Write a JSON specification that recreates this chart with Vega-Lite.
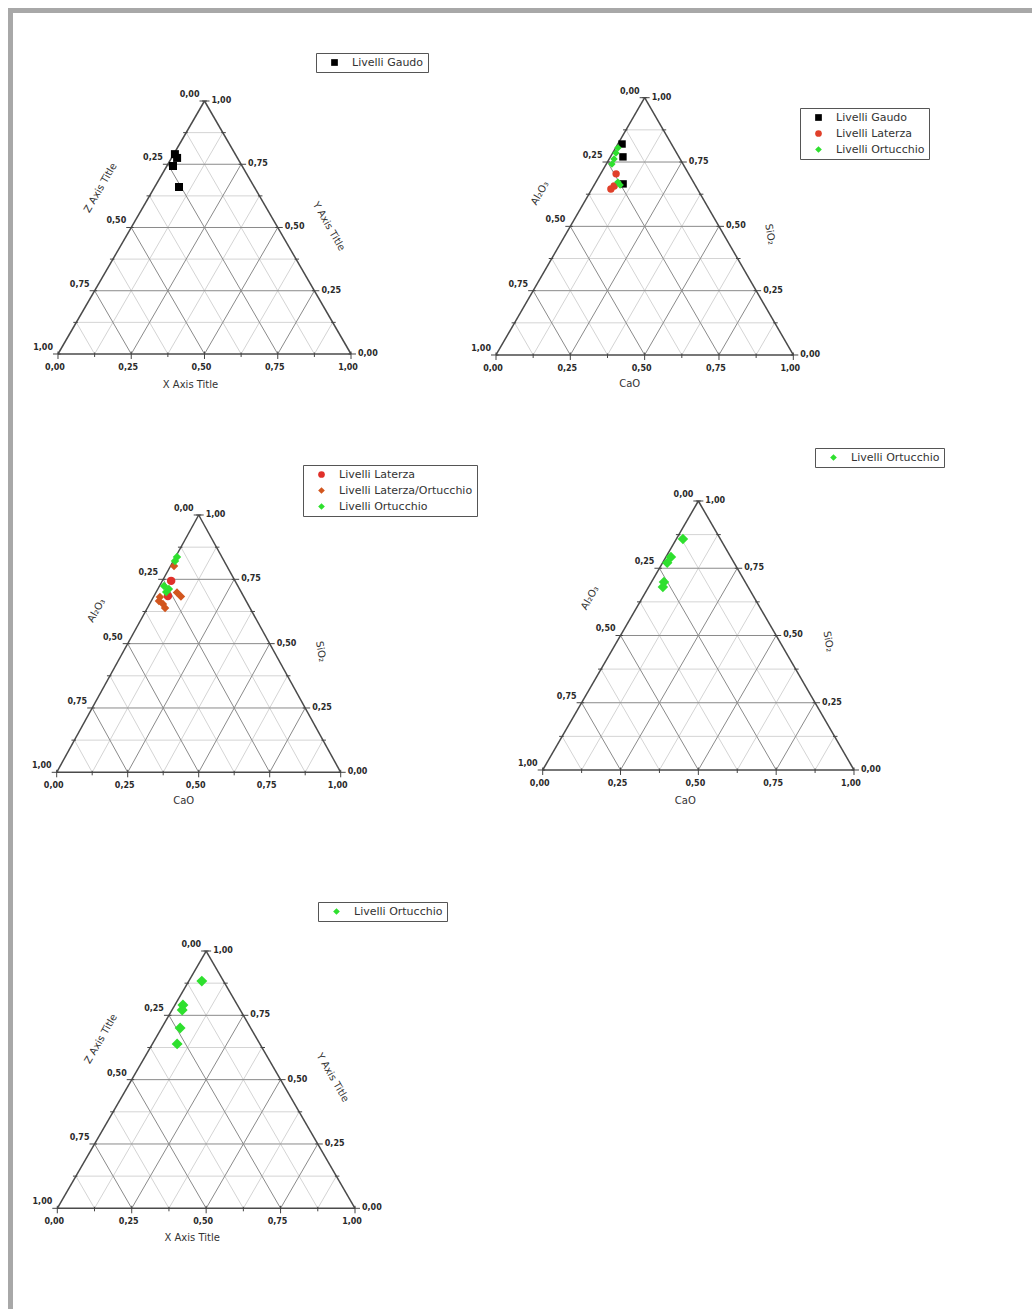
{
  "$schema": "https://vega.github.io/schema/vega-lite/v6.json",
  "padding": {"left": 8, "top": 8, "right": 0, "bottom": 0},
  "background": "white",
  "spacing": 0,
  "resolve": {"scale": {"color": "independent", "shape": "independent"}},
  "config": {
    "view": {"stroke": null},
    "text": {"font": "DejaVu Sans"},
    "legend": {
      "labelFont": "DejaVu Sans",
      "labelFontSize": 11,
      "labelColor": "#333",
      "padding": 4,
      "strokeColor": "#555",
      "symbolOffset": 9,
      "labelOffset": 12,
      "rowPadding": 4,
      "symbolSize": 45
    }
  },
  "datasets": {
    "grid": [
      {"family": "X", "v": 0.125}, {"family": "X", "v": 0.375}, {"family": "X", "v": 0.625}, {"family": "X", "v": 0.875},
      {"family": "Y", "v": 0.125}, {"family": "Y", "v": 0.375}, {"family": "Y", "v": 0.625}, {"family": "Y", "v": 0.875},
      {"family": "Z", "v": 0.125}, {"family": "Z", "v": 0.375}, {"family": "Z", "v": 0.625}, {"family": "Z", "v": 0.875},
      {"family": "X", "v": 0.25}, {"family": "X", "v": 0.5}, {"family": "X", "v": 0.75},
      {"family": "Y", "v": 0.25}, {"family": "Y", "v": 0.5}, {"family": "Y", "v": 0.75},
      {"family": "Z", "v": 0.25}, {"family": "Z", "v": 0.5}, {"family": "Z", "v": 0.75},
      {"family": "X", "v": 0}, {"family": "Y", "v": 0}, {"family": "Z", "v": 0}
    ],
    "ticks": [
      {"side": "bottom", "v": 0}, {"side": "bottom", "v": 0.125}, {"side": "bottom", "v": 0.25}, {"side": "bottom", "v": 0.375},
      {"side": "bottom", "v": 0.5}, {"side": "bottom", "v": 0.625}, {"side": "bottom", "v": 0.75}, {"side": "bottom", "v": 0.875},
      {"side": "bottom", "v": 1},
      {"side": "right", "v": 0}, {"side": "right", "v": 0.125}, {"side": "right", "v": 0.25}, {"side": "right", "v": 0.375},
      {"side": "right", "v": 0.5}, {"side": "right", "v": 0.625}, {"side": "right", "v": 0.75}, {"side": "right", "v": 0.875},
      {"side": "right", "v": 1},
      {"side": "left", "v": 0}, {"side": "left", "v": 0.125}, {"side": "left", "v": 0.25}, {"side": "left", "v": 0.375},
      {"side": "left", "v": 0.5}, {"side": "left", "v": 0.625}, {"side": "left", "v": 0.75}, {"side": "left", "v": 0.875},
      {"side": "left", "v": 1}
    ],
    "samples": [
      {"panel": 1, "group": "Livelli Gaudo", "CaO": 0.004, "SiO2": 0.790, "Al2O3": 0.206},
      {"panel": 1, "group": "Livelli Gaudo", "CaO": 0.019, "SiO2": 0.775, "Al2O3": 0.206},
      {"panel": 1, "group": "Livelli Gaudo", "CaO": 0.021, "SiO2": 0.743, "Al2O3": 0.236},
      {"panel": 1, "group": "Livelli Gaudo", "CaO": 0.083, "SiO2": 0.660, "Al2O3": 0.257},

      {"panel": 2, "group": "Livelli Gaudo", "CaO": 0.014, "SiO2": 0.820, "Al2O3": 0.166},
      {"panel": 2, "group": "Livelli Gaudo", "CaO": 0.042, "SiO2": 0.770, "Al2O3": 0.188},
      {"panel": 2, "group": "Livelli Gaudo", "CaO": 0.095, "SiO2": 0.665, "Al2O3": 0.240},
      {"panel": 2, "group": "Livelli Laterza", "CaO": 0.052, "SiO2": 0.704, "Al2O3": 0.244},
      {"panel": 2, "group": "Livelli Laterza", "CaO": 0.064, "SiO2": 0.645, "Al2O3": 0.291},
      {"panel": 2, "group": "Livelli Laterza", "CaO": 0.069, "SiO2": 0.657, "Al2O3": 0.274},
      {"panel": 2, "group": "Livelli Ortucchio", "CaO": 0.008, "SiO2": 0.805, "Al2O3": 0.187},
      {"panel": 2, "group": "Livelli Ortucchio", "CaO": 0.011, "SiO2": 0.785, "Al2O3": 0.204},
      {"panel": 2, "group": "Livelli Ortucchio", "CaO": 0.016, "SiO2": 0.762, "Al2O3": 0.222},
      {"panel": 2, "group": "Livelli Ortucchio", "CaO": 0.019, "SiO2": 0.742, "Al2O3": 0.239},
      {"panel": 2, "group": "Livelli Ortucchio", "CaO": 0.074, "SiO2": 0.672, "Al2O3": 0.254},
      {"panel": 2, "group": "Livelli Ortucchio", "CaO": 0.087, "SiO2": 0.661, "Al2O3": 0.252},

      {"panel": 3, "group": "Livelli Laterza", "CaO": 0.031, "SiO2": 0.744, "Al2O3": 0.225},
      {"panel": 3, "group": "Livelli Laterza", "CaO": 0.049, "SiO2": 0.685, "Al2O3": 0.266},
      {"panel": 3, "group": "Livelli Laterza/Ortucchio", "CaO": 0.012, "SiO2": 0.802, "Al2O3": 0.186},
      {"panel": 3, "group": "Livelli Laterza/Ortucchio", "CaO": 0.074, "SiO2": 0.699, "Al2O3": 0.227},
      {"panel": 3, "group": "Livelli Laterza/Ortucchio", "CaO": 0.096, "SiO2": 0.683, "Al2O3": 0.221},
      {"panel": 3, "group": "Livelli Laterza/Ortucchio", "CaO": 0.027, "SiO2": 0.666, "Al2O3": 0.307},
      {"panel": 3, "group": "Livelli Laterza/Ortucchio", "CaO": 0.047, "SiO2": 0.654, "Al2O3": 0.299},
      {"panel": 3, "group": "Livelli Laterza/Ortucchio", "CaO": 0.062, "SiO2": 0.639, "Al2O3": 0.299},
      {"panel": 3, "group": "Livelli Laterza/Ortucchio", "CaO": 0.023, "SiO2": 0.681, "Al2O3": 0.296},
      {"panel": 3, "group": "Livelli Ortucchio", "CaO": 0.005, "SiO2": 0.837, "Al2O3": 0.158},
      {"panel": 3, "group": "Livelli Ortucchio", "CaO": 0.006, "SiO2": 0.821, "Al2O3": 0.173},
      {"panel": 3, "group": "Livelli Ortucchio", "CaO": 0.016, "SiO2": 0.724, "Al2O3": 0.260},
      {"panel": 3, "group": "Livelli Ortucchio", "CaO": 0.039, "SiO2": 0.712, "Al2O3": 0.249},
      {"panel": 3, "group": "Livelli Ortucchio", "CaO": 0.035, "SiO2": 0.701, "Al2O3": 0.264},

      {"panel": 4, "group": "Livelli Ortucchio", "CaO": 0.021, "SiO2": 0.859, "Al2O3": 0.120},
      {"panel": 4, "group": "Livelli Ortucchio", "CaO": 0.016, "SiO2": 0.792, "Al2O3": 0.192},
      {"panel": 4, "group": "Livelli Ortucchio", "CaO": 0.015, "SiO2": 0.770, "Al2O3": 0.215},
      {"panel": 4, "group": "Livelli Ortucchio", "CaO": 0.040, "SiO2": 0.699, "Al2O3": 0.261},
      {"panel": 4, "group": "Livelli Ortucchio", "CaO": 0.046, "SiO2": 0.680, "Al2O3": 0.274},

      {"panel": 5, "group": "Livelli Ortucchio", "CaO": 0.044, "SiO2": 0.883, "Al2O3": 0.073},
      {"panel": 5, "group": "Livelli Ortucchio", "CaO": 0.027, "SiO2": 0.790, "Al2O3": 0.183},
      {"panel": 5, "group": "Livelli Ortucchio", "CaO": 0.034, "SiO2": 0.771, "Al2O3": 0.195},
      {"panel": 5, "group": "Livelli Ortucchio", "CaO": 0.062, "SiO2": 0.701, "Al2O3": 0.237},
      {"panel": 5, "group": "Livelli Ortucchio", "CaO": 0.083, "SiO2": 0.639, "Al2O3": 0.278}
    ]
  },
  "vconcat": [
    {
      "width": 1024, "height": 5,
      "view": {"fill": "#a8a8a8", "stroke": null},
      "data": {"values": [{}]},
      "mark": {"type": "text", "fontSize": 1, "baseline": "top", "align": "left"},
      "encoding": {"text": {"value": ""}}
    },
    {
      "spacing": 0,
      "resolve": {"scale": {"color": "independent", "shape": "independent"}},
      "hconcat": [
        {
          "width": 5, "height": 1296,
          "view": {"fill": "#a8a8a8", "stroke": null},
          "data": {"values": [{}]},
          "mark": {"type": "text", "fontSize": 1, "baseline": "top", "align": "left"},
          "encoding": {"text": {"value": ""}}
        },
        {
          "spacing": 0,
          "resolve": {"scale": {"color": "independent", "shape": "independent"}},
          "vconcat": [
            {
              "spacing": 0,
              "bounds": "flush",
              "resolve": {"scale": {"color": "independent", "shape": "independent"}},
              "hconcat": [
                {
                  "width": 467, "height": 417,
                  "encoding": {
                    "x": {"field": "px", "type": "quantitative", "axis": null, "scale": {"domain": [-0.15358, 1.44027], "nice": false, "zero": false}},
                    "y": {"field": "py", "type": "quantitative", "axis": null, "scale": {"domain": [-0.3004, 1.34783], "nice": false, "zero": false}}
                  },
                  "layer": [
                    {"data": {"name": "grid"}, "transform": [
                      {"calculate": "datum.family === 'Y' ? datum.v / 2 : datum.family === 'X' ? datum.v : 1 - datum.v", "as": "px"},
                      {"calculate": "datum.family === 'Y' ? datum.v : 0", "as": "py"},
                      {"calculate": "datum.family === 'Y' ? 1 - datum.v / 2 : datum.family === 'X' ? (1 + datum.v) / 2 : (1 - datum.v) / 2", "as": "px2"},
                      {"calculate": "datum.family === 'Y' ? datum.v : 1 - datum.v", "as": "py2"}],
                     "mark": {"type": "rule"},
                     "encoding": {"x2": {"field": "px2"}, "y2": {"field": "py2"},
                       "color": {"condition": [{"test": "datum.v === 0", "value": "#4a4a4a"}, {"test": "datum.v * 4 % 1 === 0", "value": "#8a8a8a"}], "value": "#d4d4d4"},
                       "strokeWidth": {"condition": {"test": "datum.v === 0", "value": 1.5}, "value": 1}}},
                    {"data": {"name": "ticks"}, "transform": [
                      {"calculate": "datum.side === 'bottom' ? datum.v : datum.side === 'right' ? 1 - datum.v / 2 : (1 - datum.v) / 2", "as": "px"},
                      {"calculate": "datum.side === 'bottom' ? 0 : datum.side === 'right' ? datum.v : 1 - datum.v", "as": "py"}],
                     "mark": {"type": "point", "filled": false, "color": "#444", "strokeWidth": 1, "opacity": 1},
                     "encoding": {
                       "shape": {"condition": [{"test": "datum.side === 'bottom'", "value": "M0,-0.5V1"}, {"test": "datum.side === 'left'", "value": "M0.5,0H-1"}], "value": "M-0.5,0H1"},
                       "size": {"condition": {"test": "datum.v * 4 % 1 === 0", "value": 100}, "value": 36}}},
                    {"data": {"name": "ticks"}, "transform": [
                      {"filter": "datum.side === 'left' && datum.v * 4 % 1 === 0"},
                      {"calculate": "(1 - datum.v) / 2", "as": "px"},
                      {"calculate": "1 - datum.v", "as": "py"},
                      {"calculate": "replace(format(datum.v, '.2f'), '.', ',')", "as": "label"}],
                     "mark": {"type": "text", "align": "right", "baseline": "alphabetic", "dx": -5, "dy": -4, "fontSize": 8, "fontWeight": "bold", "color": "#2a2a2a"},
                     "encoding": {"text": {"field": "label"}}},
                    {"data": {"name": "ticks"}, "transform": [
                      {"filter": "datum.side === 'right' && datum.v * 4 % 1 === 0"},
                      {"calculate": "1 - datum.v / 2", "as": "px"},
                      {"calculate": "datum.v", "as": "py"},
                      {"calculate": "replace(format(datum.v, '.2f'), '.', ',')", "as": "label"}],
                     "mark": {"type": "text", "align": "left", "baseline": "middle", "dx": 7, "fontSize": 8, "fontWeight": "bold", "color": "#2a2a2a"},
                     "encoding": {"text": {"field": "label"}}},
                    {"data": {"name": "ticks"}, "transform": [
                      {"filter": "datum.side === 'bottom' && datum.v * 4 % 1 === 0"},
                      {"calculate": "datum.v", "as": "px"},
                      {"calculate": "0", "as": "py"},
                      {"calculate": "replace(format(datum.v, '.2f'), '.', ',')", "as": "label"}],
                     "mark": {"type": "text", "align": "center", "baseline": "top", "dx": -3, "dy": 10, "fontSize": 8, "fontWeight": "bold", "color": "#2a2a2a"},
                     "encoding": {"text": {"field": "label"}}},
                    {"data": {"name": "ticks"}, "transform": [
                      {"filter": "datum.side === 'bottom' && datum.v === 0.5"},
                      {"calculate": "datum.v", "as": "px"},
                      {"calculate": "0", "as": "py"}],
                     "mark": {"type": "text", "fontSize": 10, "color": "#333", "baseline": "middle", "dx": -14, "dy": 31},
                     "encoding": {"text": {"value": "X Axis Title"}}},
                    {"data": {"name": "ticks"}, "transform": [
                      {"filter": "datum.side === 'right' && datum.v === 0.5"},
                      {"calculate": "1 - datum.v / 2", "as": "px"},
                      {"calculate": "datum.v", "as": "py"}],
                     "mark": {"type": "text", "fontSize": 10, "color": "#333", "baseline": "middle", "angle": 60, "dx": 24.6, "dy": -44.7},
                     "encoding": {"text": {"value": "Y Axis Title"}}},
                    {"data": {"name": "ticks"}, "transform": [
                      {"filter": "datum.side === 'left' && datum.v === 0.375"},
                      {"calculate": "(1 - datum.v) / 2", "as": "px"},
                      {"calculate": "1 - datum.v", "as": "py"}],
                     "mark": {"type": "text", "fontSize": 10, "color": "#333", "baseline": "middle", "angle": 300, "dx": -17.6, "dy": -46.4},
                     "encoding": {"text": {"value": "Z Axis Title"}}},
                    {"data": {"name": "samples"}, "transform": [
                      {"filter": "datum.panel === 1"},
                      {"calculate": "datum.CaO + datum.SiO2 / 2", "as": "px"},
                      {"calculate": "datum.SiO2", "as": "py"}],
                     "mark": {"type": "point", "filled": true, "opacity": 1, "size": 64},
                     "encoding": {
                       "color": {"field": "group", "type": "nominal", "scale": {"domain": ["Livelli Gaudo"], "range": ["#000000"]},
                                 "legend": {"title": null, "orient": "none", "legendX": 303, "legendY": 40}},
                       "shape": {"field": "group", "type": "nominal", "scale": {"domain": ["Livelli Gaudo"], "range": ["square"]},
                                 "legend": {"title": null, "orient": "none", "legendX": 303, "legendY": 40}}}}
                  ]
                },
                {
                  "width": 552, "height": 417,
                  "encoding": {
                    "x": {"field": "px", "type": "quantitative", "axis": null, "scale": {"domain": [-0.05382, 1.80289], "nice": false, "zero": false}},
                    "y": {"field": "py", "type": "quantitative", "axis": null, "scale": {"domain": [-0.29149, 1.32919], "nice": false, "zero": false}}
                  },
                  "layer": [
                    {"data": {"name": "grid"}, "transform": [
                      {"calculate": "datum.family === 'Y' ? datum.v / 2 : datum.family === 'X' ? datum.v : 1 - datum.v", "as": "px"},
                      {"calculate": "datum.family === 'Y' ? datum.v : 0", "as": "py"},
                      {"calculate": "datum.family === 'Y' ? 1 - datum.v / 2 : datum.family === 'X' ? (1 + datum.v) / 2 : (1 - datum.v) / 2", "as": "px2"},
                      {"calculate": "datum.family === 'Y' ? datum.v : 1 - datum.v", "as": "py2"}],
                     "mark": {"type": "rule"},
                     "encoding": {"x2": {"field": "px2"}, "y2": {"field": "py2"},
                       "color": {"condition": [{"test": "datum.v === 0", "value": "#4a4a4a"}, {"test": "datum.v * 4 % 1 === 0", "value": "#8a8a8a"}], "value": "#d4d4d4"},
                       "strokeWidth": {"condition": {"test": "datum.v === 0", "value": 1.5}, "value": 1}}},
                    {"data": {"name": "ticks"}, "transform": [
                      {"calculate": "datum.side === 'bottom' ? datum.v : datum.side === 'right' ? 1 - datum.v / 2 : (1 - datum.v) / 2", "as": "px"},
                      {"calculate": "datum.side === 'bottom' ? 0 : datum.side === 'right' ? datum.v : 1 - datum.v", "as": "py"}],
                     "mark": {"type": "point", "filled": false, "color": "#444", "strokeWidth": 1, "opacity": 1},
                     "encoding": {
                       "shape": {"condition": [{"test": "datum.side === 'bottom'", "value": "M0,-0.5V1"}, {"test": "datum.side === 'left'", "value": "M0.5,0H-1"}], "value": "M-0.5,0H1"},
                       "size": {"condition": {"test": "datum.v * 4 % 1 === 0", "value": 100}, "value": 36}}},
                    {"data": {"name": "ticks"}, "transform": [
                      {"filter": "datum.side === 'left' && datum.v * 4 % 1 === 0"},
                      {"calculate": "(1 - datum.v) / 2", "as": "px"},
                      {"calculate": "1 - datum.v", "as": "py"},
                      {"calculate": "replace(format(datum.v, '.2f'), '.', ',')", "as": "label"}],
                     "mark": {"type": "text", "align": "right", "baseline": "alphabetic", "dx": -5, "dy": -4, "fontSize": 8, "fontWeight": "bold", "color": "#2a2a2a"},
                     "encoding": {"text": {"field": "label"}}},
                    {"data": {"name": "ticks"}, "transform": [
                      {"filter": "datum.side === 'right' && datum.v * 4 % 1 === 0"},
                      {"calculate": "1 - datum.v / 2", "as": "px"},
                      {"calculate": "datum.v", "as": "py"},
                      {"calculate": "replace(format(datum.v, '.2f'), '.', ',')", "as": "label"}],
                     "mark": {"type": "text", "align": "left", "baseline": "middle", "dx": 7, "fontSize": 8, "fontWeight": "bold", "color": "#2a2a2a"},
                     "encoding": {"text": {"field": "label"}}},
                    {"data": {"name": "ticks"}, "transform": [
                      {"filter": "datum.side === 'bottom' && datum.v * 4 % 1 === 0"},
                      {"calculate": "datum.v", "as": "px"},
                      {"calculate": "0", "as": "py"},
                      {"calculate": "replace(format(datum.v, '.2f'), '.', ',')", "as": "label"}],
                     "mark": {"type": "text", "align": "center", "baseline": "top", "dx": -3, "dy": 10, "fontSize": 8, "fontWeight": "bold", "color": "#2a2a2a"},
                     "encoding": {"text": {"field": "label"}}},
                    {"data": {"name": "ticks"}, "transform": [
                      {"filter": "datum.side === 'bottom' && datum.v === 0.5"},
                      {"calculate": "datum.v", "as": "px"},
                      {"calculate": "0", "as": "py"}],
                     "mark": {"type": "text", "fontSize": 10, "color": "#333", "baseline": "middle", "dx": -15, "dy": 29},
                     "encoding": {"text": {"value": "CaO"}}},
                    {"data": {"name": "ticks"}, "transform": [
                      {"filter": "datum.side === 'right' && datum.v === 0.5"},
                      {"calculate": "1 - datum.v / 2", "as": "px"},
                      {"calculate": "datum.v", "as": "py"}],
                     "mark": {"type": "text", "fontSize": 10, "color": "#333", "baseline": "middle", "angle": 80, "dx": 16.7, "dy": -48.8},
                     "encoding": {"text": {"value": "SiO₂"}}},
                    {"data": {"name": "ticks"}, "transform": [
                      {"filter": "datum.side === 'left' && datum.v === 0.375"},
                      {"calculate": "(1 - datum.v) / 2", "as": "px"},
                      {"calculate": "1 - datum.v", "as": "py"}],
                     "mark": {"type": "text", "fontSize": 10, "color": "#333", "baseline": "middle", "angle": 300, "dx": -23.6, "dy": -42.9},
                     "encoding": {"text": {"value": "Al₂O₃"}}},
                    {"data": {"name": "samples"}, "transform": [
                      {"filter": "datum.panel === 2"},
                      {"calculate": "datum.CaO + datum.SiO2 / 2", "as": "px"},
                      {"calculate": "datum.SiO2", "as": "py"}],
                     "mark": {"type": "point", "filled": true, "opacity": 1, "size": 55},
                     "encoding": {
                       "color": {"field": "group", "type": "nominal", "scale": {"domain": ["Livelli Gaudo", "Livelli Laterza", "Livelli Ortucchio"], "range": ["#000000", "#e0402a", "#2ee02e"]},
                                 "legend": {"title": null, "orient": "none", "legendX": 320, "legendY": 95}},
                       "shape": {"field": "group", "type": "nominal", "scale": {"domain": ["Livelli Gaudo", "Livelli Laterza", "Livelli Ortucchio"], "range": ["square", "circle", "diamond"]},
                                 "legend": {"title": null, "orient": "none", "legendX": 320, "legendY": 95}}}}
                  ]
                }
              ]
            },
            {
              "spacing": 0,
              "bounds": "flush",
              "resolve": {"scale": {"color": "independent", "shape": "independent"}},
              "hconcat": [
                {
                  "width": 467, "height": 420,
                  "encoding": {
                    "x": {"field": "px", "type": "quantitative", "axis": null, "scale": {"domain": [-0.15387, 1.49049], "nice": false, "zero": false}},
                    "y": {"field": "py", "type": "quantitative", "axis": null, "scale": {"domain": [-0.30198, 1.33035], "nice": false, "zero": false}}
                  },
                  "layer": [
                    {"data": {"name": "grid"}, "transform": [
                      {"calculate": "datum.family === 'Y' ? datum.v / 2 : datum.family === 'X' ? datum.v : 1 - datum.v", "as": "px"},
                      {"calculate": "datum.family === 'Y' ? datum.v : 0", "as": "py"},
                      {"calculate": "datum.family === 'Y' ? 1 - datum.v / 2 : datum.family === 'X' ? (1 + datum.v) / 2 : (1 - datum.v) / 2", "as": "px2"},
                      {"calculate": "datum.family === 'Y' ? datum.v : 1 - datum.v", "as": "py2"}],
                     "mark": {"type": "rule"},
                     "encoding": {"x2": {"field": "px2"}, "y2": {"field": "py2"},
                       "color": {"condition": [{"test": "datum.v === 0", "value": "#4a4a4a"}, {"test": "datum.v * 4 % 1 === 0", "value": "#8a8a8a"}], "value": "#d4d4d4"},
                       "strokeWidth": {"condition": {"test": "datum.v === 0", "value": 1.5}, "value": 1}}},
                    {"data": {"name": "ticks"}, "transform": [
                      {"calculate": "datum.side === 'bottom' ? datum.v : datum.side === 'right' ? 1 - datum.v / 2 : (1 - datum.v) / 2", "as": "px"},
                      {"calculate": "datum.side === 'bottom' ? 0 : datum.side === 'right' ? datum.v : 1 - datum.v", "as": "py"}],
                     "mark": {"type": "point", "filled": false, "color": "#444", "strokeWidth": 1, "opacity": 1},
                     "encoding": {
                       "shape": {"condition": [{"test": "datum.side === 'bottom'", "value": "M0,-0.5V1"}, {"test": "datum.side === 'left'", "value": "M0.5,0H-1"}], "value": "M-0.5,0H1"},
                       "size": {"condition": {"test": "datum.v * 4 % 1 === 0", "value": 100}, "value": 36}}},
                    {"data": {"name": "ticks"}, "transform": [
                      {"filter": "datum.side === 'left' && datum.v * 4 % 1 === 0"},
                      {"calculate": "(1 - datum.v) / 2", "as": "px"},
                      {"calculate": "1 - datum.v", "as": "py"},
                      {"calculate": "replace(format(datum.v, '.2f'), '.', ',')", "as": "label"}],
                     "mark": {"type": "text", "align": "right", "baseline": "alphabetic", "dx": -5, "dy": -4, "fontSize": 8, "fontWeight": "bold", "color": "#2a2a2a"},
                     "encoding": {"text": {"field": "label"}}},
                    {"data": {"name": "ticks"}, "transform": [
                      {"filter": "datum.side === 'right' && datum.v * 4 % 1 === 0"},
                      {"calculate": "1 - datum.v / 2", "as": "px"},
                      {"calculate": "datum.v", "as": "py"},
                      {"calculate": "replace(format(datum.v, '.2f'), '.', ',')", "as": "label"}],
                     "mark": {"type": "text", "align": "left", "baseline": "middle", "dx": 7, "fontSize": 8, "fontWeight": "bold", "color": "#2a2a2a"},
                     "encoding": {"text": {"field": "label"}}},
                    {"data": {"name": "ticks"}, "transform": [
                      {"filter": "datum.side === 'bottom' && datum.v * 4 % 1 === 0"},
                      {"calculate": "datum.v", "as": "px"},
                      {"calculate": "0", "as": "py"},
                      {"calculate": "replace(format(datum.v, '.2f'), '.', ',')", "as": "label"}],
                     "mark": {"type": "text", "align": "center", "baseline": "top", "dx": -3, "dy": 10, "fontSize": 8, "fontWeight": "bold", "color": "#2a2a2a"},
                     "encoding": {"text": {"field": "label"}}},
                    {"data": {"name": "ticks"}, "transform": [
                      {"filter": "datum.side === 'bottom' && datum.v === 0.5"},
                      {"calculate": "datum.v", "as": "px"},
                      {"calculate": "0", "as": "py"}],
                     "mark": {"type": "text", "fontSize": 10, "color": "#333", "baseline": "middle", "dx": -15, "dy": 29},
                     "encoding": {"text": {"value": "CaO"}}},
                    {"data": {"name": "ticks"}, "transform": [
                      {"filter": "datum.side === 'right' && datum.v === 0.5"},
                      {"calculate": "1 - datum.v / 2", "as": "px"},
                      {"calculate": "datum.v", "as": "py"}],
                     "mark": {"type": "text", "fontSize": 10, "color": "#333", "baseline": "middle", "angle": 80, "dx": 16.7, "dy": -48.8},
                     "encoding": {"text": {"value": "SiO₂"}}},
                    {"data": {"name": "ticks"}, "transform": [
                      {"filter": "datum.side === 'left' && datum.v === 0.375"},
                      {"calculate": "(1 - datum.v) / 2", "as": "px"},
                      {"calculate": "1 - datum.v", "as": "py"}],
                     "mark": {"type": "text", "fontSize": 10, "color": "#333", "baseline": "middle", "angle": 300, "dx": -23.6, "dy": -42.9},
                     "encoding": {"text": {"value": "Al₂O₃"}}},
                    {"data": {"name": "samples"}, "transform": [
                      {"filter": "datum.panel === 3"},
                      {"calculate": "datum.CaO + datum.SiO2 / 2", "as": "px"},
                      {"calculate": "datum.SiO2", "as": "py"}],
                     "mark": {"type": "point", "filled": true, "opacity": 1, "size": 72},
                     "encoding": {
                       "color": {"field": "group", "type": "nominal", "scale": {"domain": ["Livelli Laterza", "Livelli Laterza/Ortucchio", "Livelli Ortucchio"], "range": ["#e0302a", "#d2561e", "#2ee02e"]},
                                 "legend": {"title": null, "orient": "none", "legendX": 290, "legendY": 35}},
                       "shape": {"field": "group", "type": "nominal", "scale": {"domain": ["Livelli Laterza", "Livelli Laterza/Ortucchio", "Livelli Ortucchio"], "range": ["circle", "diamond", "diamond"]},
                                 "legend": {"title": null, "orient": "none", "legendX": 290, "legendY": 35}}}}
                  ]
                },
                {
                  "width": 552, "height": 420,
                  "encoding": {
                    "x": {"field": "px", "type": "quantitative", "axis": null, "scale": {"domain": [-0.20141, 1.5718], "nice": false, "zero": false}},
                    "y": {"field": "py", "type": "quantitative", "axis": null, "scale": {"domain": [-0.2974, 1.26394], "nice": false, "zero": false}}
                  },
                  "layer": [
                    {"data": {"name": "grid"}, "transform": [
                      {"calculate": "datum.family === 'Y' ? datum.v / 2 : datum.family === 'X' ? datum.v : 1 - datum.v", "as": "px"},
                      {"calculate": "datum.family === 'Y' ? datum.v : 0", "as": "py"},
                      {"calculate": "datum.family === 'Y' ? 1 - datum.v / 2 : datum.family === 'X' ? (1 + datum.v) / 2 : (1 - datum.v) / 2", "as": "px2"},
                      {"calculate": "datum.family === 'Y' ? datum.v : 1 - datum.v", "as": "py2"}],
                     "mark": {"type": "rule"},
                     "encoding": {"x2": {"field": "px2"}, "y2": {"field": "py2"},
                       "color": {"condition": [{"test": "datum.v === 0", "value": "#4a4a4a"}, {"test": "datum.v * 4 % 1 === 0", "value": "#8a8a8a"}], "value": "#d4d4d4"},
                       "strokeWidth": {"condition": {"test": "datum.v === 0", "value": 1.5}, "value": 1}}},
                    {"data": {"name": "ticks"}, "transform": [
                      {"calculate": "datum.side === 'bottom' ? datum.v : datum.side === 'right' ? 1 - datum.v / 2 : (1 - datum.v) / 2", "as": "px"},
                      {"calculate": "datum.side === 'bottom' ? 0 : datum.side === 'right' ? datum.v : 1 - datum.v", "as": "py"}],
                     "mark": {"type": "point", "filled": false, "color": "#444", "strokeWidth": 1, "opacity": 1},
                     "encoding": {
                       "shape": {"condition": [{"test": "datum.side === 'bottom'", "value": "M0,-0.5V1"}, {"test": "datum.side === 'left'", "value": "M0.5,0H-1"}], "value": "M-0.5,0H1"},
                       "size": {"condition": {"test": "datum.v * 4 % 1 === 0", "value": 100}, "value": 36}}},
                    {"data": {"name": "ticks"}, "transform": [
                      {"filter": "datum.side === 'left' && datum.v * 4 % 1 === 0"},
                      {"calculate": "(1 - datum.v) / 2", "as": "px"},
                      {"calculate": "1 - datum.v", "as": "py"},
                      {"calculate": "replace(format(datum.v, '.2f'), '.', ',')", "as": "label"}],
                     "mark": {"type": "text", "align": "right", "baseline": "alphabetic", "dx": -5, "dy": -4, "fontSize": 8, "fontWeight": "bold", "color": "#2a2a2a"},
                     "encoding": {"text": {"field": "label"}}},
                    {"data": {"name": "ticks"}, "transform": [
                      {"filter": "datum.side === 'right' && datum.v * 4 % 1 === 0"},
                      {"calculate": "1 - datum.v / 2", "as": "px"},
                      {"calculate": "datum.v", "as": "py"},
                      {"calculate": "replace(format(datum.v, '.2f'), '.', ',')", "as": "label"}],
                     "mark": {"type": "text", "align": "left", "baseline": "middle", "dx": 7, "fontSize": 8, "fontWeight": "bold", "color": "#2a2a2a"},
                     "encoding": {"text": {"field": "label"}}},
                    {"data": {"name": "ticks"}, "transform": [
                      {"filter": "datum.side === 'bottom' && datum.v * 4 % 1 === 0"},
                      {"calculate": "datum.v", "as": "px"},
                      {"calculate": "0", "as": "py"},
                      {"calculate": "replace(format(datum.v, '.2f'), '.', ',')", "as": "label"}],
                     "mark": {"type": "text", "align": "center", "baseline": "top", "dx": -3, "dy": 10, "fontSize": 8, "fontWeight": "bold", "color": "#2a2a2a"},
                     "encoding": {"text": {"field": "label"}}},
                    {"data": {"name": "ticks"}, "transform": [
                      {"filter": "datum.side === 'bottom' && datum.v === 0.5"},
                      {"calculate": "datum.v", "as": "px"},
                      {"calculate": "0", "as": "py"}],
                     "mark": {"type": "text", "fontSize": 10, "color": "#333", "baseline": "middle", "dx": -13, "dy": 31},
                     "encoding": {"text": {"value": "CaO"}}},
                    {"data": {"name": "ticks"}, "transform": [
                      {"filter": "datum.side === 'right' && datum.v === 0.5"},
                      {"calculate": "1 - datum.v / 2", "as": "px"},
                      {"calculate": "datum.v", "as": "py"}],
                     "mark": {"type": "text", "fontSize": 10, "color": "#333", "baseline": "middle", "angle": 80, "dx": 14.9, "dy": -50.2},
                     "encoding": {"text": {"value": "SiO₂"}}},
                    {"data": {"name": "ticks"}, "transform": [
                      {"filter": "datum.side === 'left' && datum.v === 0.375"},
                      {"calculate": "(1 - datum.v) / 2", "as": "px"},
                      {"calculate": "1 - datum.v", "as": "py"}],
                     "mark": {"type": "text", "fontSize": 10, "color": "#333", "baseline": "middle", "angle": 300, "dx": -21.5, "dy": -45.3},
                     "encoding": {"text": {"value": "Al₂O₃"}}},
                    {"data": {"name": "samples"}, "transform": [
                      {"filter": "datum.panel === 4"},
                      {"calculate": "datum.CaO + datum.SiO2 / 2", "as": "px"},
                      {"calculate": "datum.SiO2", "as": "py"}],
                     "mark": {"type": "point", "filled": true, "opacity": 1, "size": 110},
                     "encoding": {
                       "color": {"field": "group", "type": "nominal", "scale": {"domain": ["Livelli Ortucchio"], "range": ["#2ee02e"]},
                                 "legend": {"title": null, "orient": "none", "legendX": 335, "legendY": 18}},
                       "shape": {"field": "group", "type": "nominal", "scale": {"domain": ["Livelli Ortucchio"], "range": ["diamond"]},
                                 "legend": {"title": null, "orient": "none", "legendX": 335, "legendY": 18}}}}
                  ]
                }
              ]
            },
            {
              "spacing": 0,
              "bounds": "flush",
              "resolve": {"scale": {"color": "independent", "shape": "independent"}},
              "hconcat": [
                {
                  "width": 467, "height": 459,
                  "encoding": {
                    "x": {"field": "px", "type": "quantitative", "axis": null, "scale": {"domain": [-0.14881, 1.41988], "nice": false, "zero": false}},
                    "y": {"field": "py", "type": "quantitative", "axis": null, "scale": {"domain": [-0.39137, 1.39254], "nice": false, "zero": false}}
                  },
                  "layer": [
                    {"data": {"name": "grid"}, "transform": [
                      {"calculate": "datum.family === 'Y' ? datum.v / 2 : datum.family === 'X' ? datum.v : 1 - datum.v", "as": "px"},
                      {"calculate": "datum.family === 'Y' ? datum.v : 0", "as": "py"},
                      {"calculate": "datum.family === 'Y' ? 1 - datum.v / 2 : datum.family === 'X' ? (1 + datum.v) / 2 : (1 - datum.v) / 2", "as": "px2"},
                      {"calculate": "datum.family === 'Y' ? datum.v : 1 - datum.v", "as": "py2"}],
                     "mark": {"type": "rule"},
                     "encoding": {"x2": {"field": "px2"}, "y2": {"field": "py2"},
                       "color": {"condition": [{"test": "datum.v === 0", "value": "#4a4a4a"}, {"test": "datum.v * 4 % 1 === 0", "value": "#8a8a8a"}], "value": "#d4d4d4"},
                       "strokeWidth": {"condition": {"test": "datum.v === 0", "value": 1.5}, "value": 1}}},
                    {"data": {"name": "ticks"}, "transform": [
                      {"calculate": "datum.side === 'bottom' ? datum.v : datum.side === 'right' ? 1 - datum.v / 2 : (1 - datum.v) / 2", "as": "px"},
                      {"calculate": "datum.side === 'bottom' ? 0 : datum.side === 'right' ? datum.v : 1 - datum.v", "as": "py"}],
                     "mark": {"type": "point", "filled": false, "color": "#444", "strokeWidth": 1, "opacity": 1},
                     "encoding": {
                       "shape": {"condition": [{"test": "datum.side === 'bottom'", "value": "M0,-0.5V1"}, {"test": "datum.side === 'left'", "value": "M0.5,0H-1"}], "value": "M-0.5,0H1"},
                       "size": {"condition": {"test": "datum.v * 4 % 1 === 0", "value": 100}, "value": 36}}},
                    {"data": {"name": "ticks"}, "transform": [
                      {"filter": "datum.side === 'left' && datum.v * 4 % 1 === 0"},
                      {"calculate": "(1 - datum.v) / 2", "as": "px"},
                      {"calculate": "1 - datum.v", "as": "py"},
                      {"calculate": "replace(format(datum.v, '.2f'), '.', ',')", "as": "label"}],
                     "mark": {"type": "text", "align": "right", "baseline": "alphabetic", "dx": -5, "dy": -4, "fontSize": 8, "fontWeight": "bold", "color": "#2a2a2a"},
                     "encoding": {"text": {"field": "label"}}},
                    {"data": {"name": "ticks"}, "transform": [
                      {"filter": "datum.side === 'right' && datum.v * 4 % 1 === 0"},
                      {"calculate": "1 - datum.v / 2", "as": "px"},
                      {"calculate": "datum.v", "as": "py"},
                      {"calculate": "replace(format(datum.v, '.2f'), '.', ',')", "as": "label"}],
                     "mark": {"type": "text", "align": "left", "baseline": "middle", "dx": 7, "fontSize": 8, "fontWeight": "bold", "color": "#2a2a2a"},
                     "encoding": {"text": {"field": "label"}}},
                    {"data": {"name": "ticks"}, "transform": [
                      {"filter": "datum.side === 'bottom' && datum.v * 4 % 1 === 0"},
                      {"calculate": "datum.v", "as": "px"},
                      {"calculate": "0", "as": "py"},
                      {"calculate": "replace(format(datum.v, '.2f'), '.', ',')", "as": "label"}],
                     "mark": {"type": "text", "align": "center", "baseline": "top", "dx": -3, "dy": 10, "fontSize": 8, "fontWeight": "bold", "color": "#2a2a2a"},
                     "encoding": {"text": {"field": "label"}}},
                    {"data": {"name": "ticks"}, "transform": [
                      {"filter": "datum.side === 'bottom' && datum.v === 0.5"},
                      {"calculate": "datum.v", "as": "px"},
                      {"calculate": "0", "as": "py"}],
                     "mark": {"type": "text", "fontSize": 10, "color": "#333", "baseline": "middle", "dx": -14, "dy": 30},
                     "encoding": {"text": {"value": "X Axis Title"}}},
                    {"data": {"name": "ticks"}, "transform": [
                      {"filter": "datum.side === 'right' && datum.v === 0.5"},
                      {"calculate": "1 - datum.v / 2", "as": "px"},
                      {"calculate": "datum.v", "as": "py"}],
                     "mark": {"type": "text", "fontSize": 10, "color": "#333", "baseline": "middle", "angle": 60, "dx": 24.3, "dy": -46.0},
                     "encoding": {"text": {"value": "Y Axis Title"}}},
                    {"data": {"name": "ticks"}, "transform": [
                      {"filter": "datum.side === 'left' && datum.v === 0.375"},
                      {"calculate": "(1 - datum.v) / 2", "as": "px"},
                      {"calculate": "1 - datum.v", "as": "py"}],
                     "mark": {"type": "text", "fontSize": 10, "color": "#333", "baseline": "middle", "angle": 300, "dx": -17.3, "dy": -47.0},
                     "encoding": {"text": {"value": "Z Axis Title"}}},
                    {"data": {"name": "samples"}, "transform": [
                      {"filter": "datum.panel === 5"},
                      {"calculate": "datum.CaO + datum.SiO2 / 2", "as": "px"},
                      {"calculate": "datum.SiO2", "as": "py"}],
                     "mark": {"type": "point", "filled": true, "opacity": 1, "size": 120},
                     "encoding": {
                       "color": {"field": "group", "type": "nominal", "scale": {"domain": ["Livelli Ortucchio"], "range": ["#2ee02e"]},
                                 "legend": {"title": null, "orient": "none", "legendX": 305, "legendY": 52}},
                       "shape": {"field": "group", "type": "nominal", "scale": {"domain": ["Livelli Ortucchio"], "range": ["diamond"]},
                                 "legend": {"title": null, "orient": "none", "legendX": 305, "legendY": 52}}}}
                  ]
                }
              ]
            }
          ]
        }
      ]
    }
  ]
}
